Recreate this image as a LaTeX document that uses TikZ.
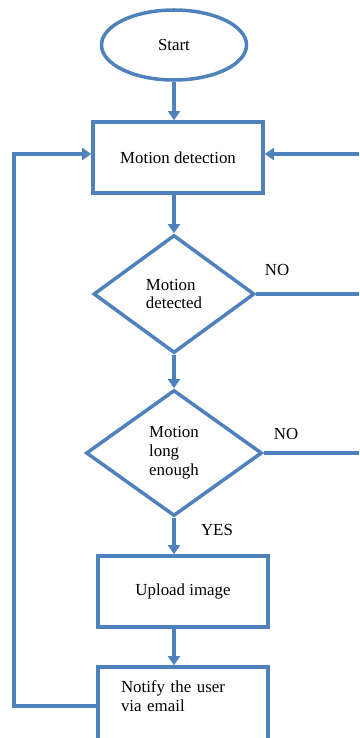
\documentclass[tikz,border=0pt]{standalone}
\usepackage{fontspec}
\setmainfont{Liberation Serif}
\usetikzlibrary{shapes.geometric,arrows.meta}
\definecolor{flow}{RGB}{79,129,189}

\begin{document}
\begin{tikzpicture}[x=0.05cm, y=-0.05cm,
  line width=5pt, draw=flow,
  every node/.style={font=\fontsize{24}{27}\selectfont},
  box/.style={draw=flow, rectangle, minimum width=170*0.05cm, minimum height=71*0.05cm, inner sep=0},
  decision/.style={draw=flow, diamond, inner sep=0, align=left},
  arr/.style={-{Triangle[length=13pt,width=17pt]}}]
\useasboundingbox (0, 0) rectangle (359, 738);
\node [draw=flow, ellipse, minimum width=145*0.05cm, minimum height=70*0.05cm] (start) at (174, 45) {Start};
\node [box] (md) at (178, 157.5) {Motion detection};
\node [decision, minimum width=161*0.05cm, minimum height=118*0.05cm] (det) at (174, 294) {Motion\\detected};
\node [decision, minimum width=176*0.05cm, minimum height=126*0.05cm] (long) at (174, 453) {Motion\\long\\enough};
\node [box] (upload) at (183, 591.5) {Upload image};
\node [box, minimum height=78*0.05cm, text width=124*0.05cm, align=left] (notify) at (183, 706) {Notify the user\\via email\\\mbox{}};
\coordinate (lft) at (14, 154);
\coordinate (rgt) at (359, 154);
\coordinate (no1) at (359, 294);
\coordinate (no2) at (359, 453);
\draw [arr] (start.south) -- (start.south |- md.north);
\draw [arr] (start.south |- md.south) -- (det.north);
\draw [arr] (det.south) -- (long.north);
\draw [arr] (long.south) -- (long.south |- upload.north);
\draw [arr] (long.south |- upload.south) -- (long.south |- notify.north);
\draw [arr] (notify.west) -| (lft) -- (lft -| md.west);
\draw [arr] (rgt) -- (rgt -| md.east);
\draw (det.east) -- (no1);
\draw (long.east) -- (no2);
\node at (277, 270) {NO};
\node at (286, 434) {NO};
\node at (217, 530) {YES};
\end{tikzpicture}
\end{document}
